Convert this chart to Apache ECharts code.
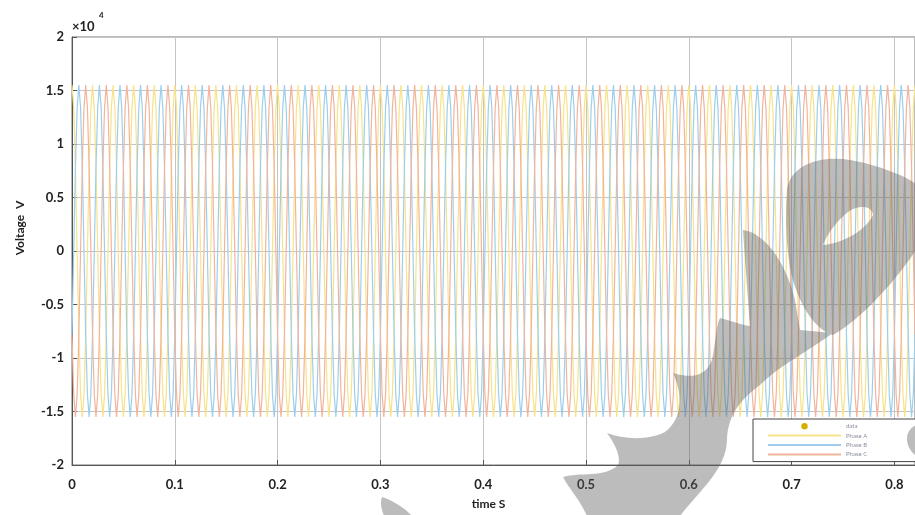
<!DOCTYPE html>
<html>
<head>
<meta charset="utf-8">
<script src="https://cdn.jsdelivr.net/npm/echarts@6/dist/echarts.min.js"></script>
<style>
  html, body { margin: 0; padding: 0; background: #fff; }
  #chart { width: 915px; height: 515px; }
</style>
</head>
<body>
<div id="chart"></div>
<script>
// one 50 Hz cycle, 12 samples per cycle (V)
const phaseA = [15500, 13400, 7800, 0, -7800, -13400, -15500, -13400, -7800, 0, 7800, 13400];
const phaseB = [-7800, 0, 7800, 13400, 15500, 13400, 7800, 0, -7800, -13400, -15500, -13400];
const phaseC = [-7800, -13400, -15500, -13400, -7800, 0, 7800, 13400, 15500, 13400, 7800, 0];
const dataMarks = [];
const cycleSeconds = 0.02;
const endTime = 0.82;
const xTicks = ["0", "0.1", "0.2", "0.3", "0.4", "0.5", "0.6", "0.7", "0.8"];
const yTicks = ["-2", "-1.5", "-1", "-0.5", "0", "0.5", "1", "1.5", "2"];

const labelFont = "Lato";
const colors = { a: "#f6e38c", b: "#9dcfec", c: "#f1b59c", data: "#d6ad00" };

// repeat the read cycle along the time axis
function tile(cycle) {
  const dt = cycleSeconds / cycle.length;
  const n = Math.round(endTime / dt);
  const out = [];
  for (let i = 0; i <= n; i++) {
    out.push([+(i * dt).toFixed(6), cycle[i % cycle.length]]);
  }
  return out;
}

// gray watermark blob over the right half
const watermarkPath =
  "M787 190 C790 165 820 155 850 160 C880 165 915 180 916 185 L916 250 C895 282 860 320 833 335 " +
  "C815 330 800 305 793 280 C786 255 785 215 787 190 Z " +
  "M823 245 C840 244 865 232 873 215 C872 205 858 205 848 212 C838 220 828 232 823 245 Z " +
  "M743 230 C762 232 785 258 795 300 L800 330 L833 333 C810 350 780 365 760 385 " +
  "C740 400 728 415 727 440 C726 470 700 490 680 516 L587 516 C580 500 570 490 563 477 " +
  "C580 472 605 478 618 465 C622 455 612 440 607 433 C625 440 650 440 665 432 " +
  "C680 420 685 400 673 373 C690 378 705 378 712 360 C716 340 716 325 720 318 " +
  "C735 322 745 326 750 326 C748 300 745 260 743 230 Z " +
  "M382 497 C392 500 405 508 412 516 L384 516 C381 508 380 502 382 497 Z " +
  "M916 425 C905 430 903 445 916 456 Z";
const watermarkSvg =
  '<svg xmlns="http://www.w3.org/2000/svg" width="915" height="515" viewBox="0 0 915 515">' +
  '<path d="' + watermarkPath + '" fill="rgb(95,95,95)" fill-opacity="0.42" fill-rule="nonzero"/></svg>';

const chart = echarts.init(document.getElementById("chart"));

chart.setOption({
  animation: false,
  backgroundColor: "#fff",
  grid: {
    left: 72,
    right: -1,
    top: 37,
    bottom: 47,
    show: true,
    borderColor: "#777",
    borderWidth: 1,
  },
  legend: {
    orient: "vertical",
    left: 753,
    top: 419,
    itemWidth: 73,
    itemHeight: 8,
    itemGap: 3,
    padding: [4, 70, 4, 14],
    backgroundColor: "#fff",
    borderColor: "#444",
    borderWidth: 1,
    z: 20,
    textStyle: { fontSize: 6, color: "#8a8fa0", fontFamily: labelFont },
    data: [
      { name: "data", lineStyle: { opacity: 0 } },
      { name: "Phase A", itemStyle: { opacity: 0 } },
      { name: "Phase B", itemStyle: { opacity: 0 } },
      { name: "Phase C", itemStyle: { opacity: 0 } },
    ],
  },
  xAxis: {
    type: "value",
    min: 0,
    max: endTime,
    interval: 0.1,
    name: "time S",
    nameLocation: "middle",
    nameGap: 33,
    nameTextStyle: { fontSize: 12, fontWeight: "bold", color: "#222", fontFamily: labelFont, padding: [0, 10, 0, 0] },
    axisLine: { show: true, onZero: false, lineStyle: { color: "#555" } },
    axisTick: { show: true, inside: true, length: 5, lineStyle: { color: "#555" } },
    splitLine: { show: true, lineStyle: { color: "#c4c4c4", width: 1 } },
    axisLabel: {
      margin: 13,
      showMaxLabel: false,
      fontSize: 13,
      fontWeight: "bold",
      color: "#222",
      fontFamily: labelFont,
      formatter: (v) => xTicks[Math.round(v * 10)] || "",
    },
  },
  yAxis: {
    type: "value",
    min: -20000,
    max: 20000,
    interval: 5000,
    axisLine: { show: true, onZero: false, lineStyle: { color: "#555" } },
    axisTick: { show: true, inside: true, length: 5, lineStyle: { color: "#555" } },
    splitLine: { show: true, lineStyle: { color: "#c4c4c4", width: 1 } },
    axisLabel: {
      margin: 8,
      fontSize: 13,
      fontWeight: "bold",
      color: "#222",
      fontFamily: labelFont,
      formatter: (v) => yTicks[Math.round(v / 5000) + 4],
    },
  },
  series: [
    {
      name: "data",
      type: "line",
      data: dataMarks,
      symbol: "circle",
      symbolSize: 4,
      itemStyle: { color: colors.data },
      lineStyle: { opacity: 0 },
    },
    {
      name: "Phase A",
      type: "line",
      data: tile(phaseA),
      symbol: "none",
      lineStyle: { color: colors.a, width: 1.2 },
      itemStyle: { color: colors.a },
    },
    {
      name: "Phase B",
      type: "line",
      data: tile(phaseB),
      symbol: "none",
      lineStyle: { color: colors.b, width: 1.2 },
      itemStyle: { color: colors.b },
    },
    {
      name: "Phase C",
      type: "line",
      data: tile(phaseC),
      symbol: "none",
      lineStyle: { color: colors.c, width: 1.2 },
      itemStyle: { color: colors.c },
    },
  ],
  graphic: [
    {
      type: "text",
      x: 72,
      y: 20,
      style: { text: "×10", font: "bold 13px Lato", fill: "#222" },
    },
    {
      type: "text",
      x: 99,
      y: 11,
      style: { text: "4", font: "bold 8px Lato", fill: "#222" },
    },
    {
      type: "text",
      x: 20,
      y: 228,
      rotation: Math.PI / 2,
      style: { text: "Voltage  V", font: "bold 12px Lato", fill: "#222", align: "center", verticalAlign: "middle" },
    },
    {
      type: "image",
      x: 0,
      y: 0,
      z: 100,
      silent: true,
      style: {
        image: "data:image/svg+xml;charset=utf-8," + encodeURIComponent(watermarkSvg),
        width: 915,
        height: 515,
      },
    },
  ],
});
</script>
</body>
</html>
